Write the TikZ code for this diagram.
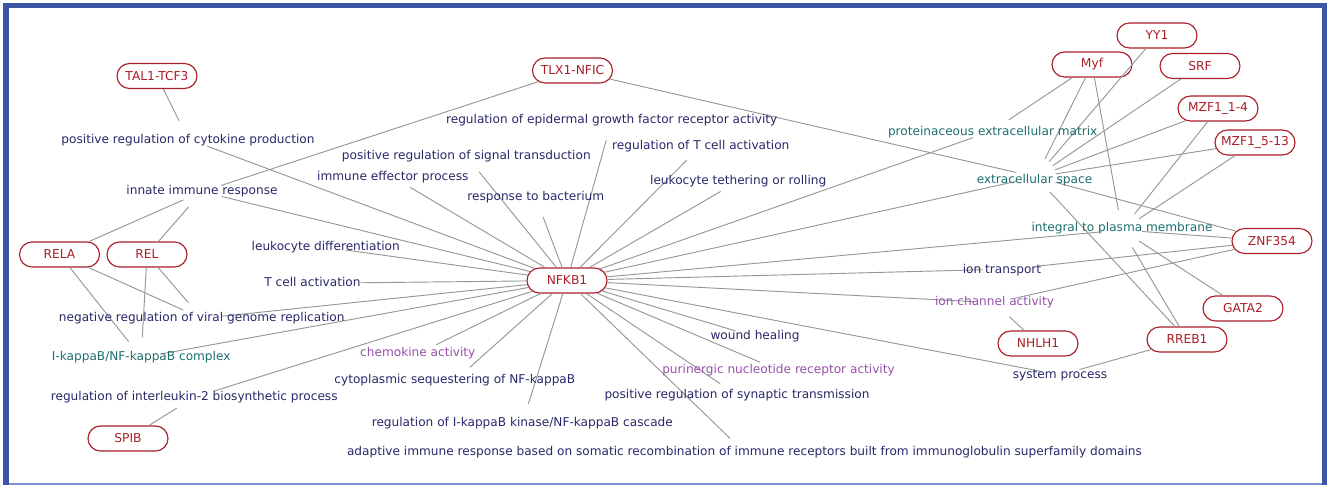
\documentclass[tikz,border=0pt]{standalone}
\usepackage{fontspec}
\setmainfont{DejaVu Sans}
\usetikzlibrary{shapes.misc}
\definecolor{generd}{RGB}{170,30,40}
\definecolor{termnavy}{RGB}{40,40,105}
\definecolor{termteal}{RGB}{30,110,110}
\definecolor{termpurple}{RGB}{150,80,170}
\definecolor{edgegray}{RGB}{150,150,150}
\definecolor{framebl}{RGB}{60,84,165}
\definecolor{framelt}{RGB}{125,145,210}
\begin{document}
\begin{tikzpicture}[x=0.75pt,y=-0.75pt,
  gene/.style={rounded rectangle, draw=generd, line width=0.85pt, fill=white, text=generd,
    minimum width=60pt, minimum height=18.75pt, inner sep=0pt, font=\fontsize{9.2}{10}\selectfont},
  hub/.style={circle, minimum size=30pt, inner sep=0pt, draw=none},
  term/.style={inner sep=0pt, text height=6.8pt, text depth=2.3pt, font=\fontsize{9.1}{10}\selectfont},
  bp/.style={term, text=termnavy},
  cc/.style={term, text=termteal},
  mf/.style={term, text=termpurple},
  link/.style={draw=edgegray, line width=0.7pt}]
\useasboundingbox (0,0) rectangle (1330,485);
% frame
\fill[framebl] (3,3) rectangle (9,485);
\fill[framebl] (3,3) rectangle (1327,8);
\fill[framebl] (1322,3) rectangle (1327,485);
\fill[framelt] (9,483) rectangle (1322,485);
% hubs of the term nodes
\node[hub] (cyto) at (188,139) {};
\node[hub] (innate) at (202,191.7) {};
\node[hub] (signal) at (466.3,156) {};
\node[hub] (effector) at (392.8,177) {};
\node[hub] (egfr) at (611.7,120.7) {};
\node[hub] (regT) at (700.8,146) {};
\node[hub] (bact) at (535.8,197.7) {};
\node[hub] (teth) at (738.2,181.3) {};
\node[hub] (ldiff) at (325.7,247.3) {};
\node[hub] (Tact) at (340,283) {};
\node[hub] (viral) at (201.7,318.3) {};
\node[hub] (complex) at (141.2,357.5) {};
\node[hub] (il2) at (194.2,397.3) {};
\node[hub] (chemo) at (417.8,353.7) {};
\node[hub] (seq) at (454.8,380.7) {};
\node[hub] (ikk) at (522.3,423.3) {};
\node[hub] (adapt) at (744.4,452.3) {};
\node[hub] (wound) at (755,336.7) {};
\node[hub] (puri) at (778.5,370) {};
\node[hub] (syn) at (737,395) {};
\node[hub] (sys) at (1060,375) {};
\node[hub] (ionch) at (994.5,302.7) {};
\node[hub, minimum size=42pt] (iont) at (1011,269) {};
\node[hub] (integ) at (1122,230) {};
\node[hub] (ecs) at (1036,177) {};
\node[hub] (pem) at (992,131) {};
% gene nodes
\node[gene] (tal) at (157,76) {TAL1-TCF3};
\node[gene] (tlx) at (572.5,70.5) {TLX1-NFIC};
\node[gene] (rela) at (59.5,254.5) {RELA};
\node[gene] (rel) at (147,254.5) {REL};
\node[gene] (spib) at (128,438.5) {SPIB};
\node[gene] (nfkb) at (567,280.5) {NFKB1};
\node[gene] (yy1) at (1157,35.5) {YY1};
\node[gene] (myf) at (1092,64.5) {Myf};
\node[gene] (srf) at (1200,66) {SRF};
\node[gene] (mzfa) at (1218,108.5) {MZF1\_1-4};
\node[gene] (mzfb) at (1255,142.5) {MZF1\_5-13};
\node[gene] (znf) at (1272,241) {ZNF354};
\node[gene] (gata) at (1243,308.5) {GATA2};
\node[gene] (rreb) at (1187,339.5) {RREB1};
\node[gene] (nhlh) at (1038,343.5) {NHLH1};
% connectors
\foreach \t in {cyto,innate,signal,effector,egfr,regT,bact,teth,ldiff,Tact,viral,complex,il2,
  chemo,seq,ikk,adapt,wound,puri,syn,sys,ionch,iont,integ,ecs,pem}
  \draw[link] (nfkb) -- (\t);
\foreach \a/\b in {tal/cyto, tlx/innate, tlx/ecs, rela/innate, rela/viral, rela/complex,
  rel/innate, rel/viral, rel/complex, spib/il2, yy1/ecs, myf/pem, myf/ecs, myf/integ,
  srf/ecs, mzfa/ecs, mzfa/integ, mzfb/ecs, mzfb/integ, znf/ecs, znf/integ, znf/iont,
  znf/ionch, gata/integ, rreb/ecs, rreb/integ, rreb/sys, nhlh/ionch}
  \draw[link] (\a) -- (\b);
% term labels
\node[bp] (l-cyto) at (188,140) {positive regulation of cytokine production};
\node[bp] (l-innate) at (202,191.7) {innate immune response};
\node[bp] (l-signal) at (466.3,156) {positive regulation of signal transduction};
\node[bp] (l-effector) at (392.8,177) {immune effector process};
\node[bp] (l-egfr) at (611.7,120.7) {regulation of epidermal growth factor receptor activity};
\node[bp] (l-regT) at (700.8,146) {regulation of T cell activation};
\node[bp] (l-bact) at (535.8,197.7) {response to bacterium};
\node[bp] (l-teth) at (738.2,181.3) {leukocyte tethering or rolling};
\node[bp] (l-ldiff) at (325.7,247.3) {leukocyte differentiation};
\node[bp] (l-Tact) at (312.5,283.3) {T cell activation};
\node[bp] (l-viral) at (201.7,318.3) {negative regulation of viral genome replication};
\node[cc] (l-complex) at (141.2,357.5) {I-kappaB/NF-kappaB complex};
\node[bp] (l-il2) at (194.2,397.3) {regulation of interleukin-2 biosynthetic process};
\node[mf] (l-chemo) at (417.8,353.7) {chemokine activity};
\node[bp] (l-seq) at (454.8,380.7) {cytoplasmic sequestering of NF-kappaB};
\node[bp] (l-ikk) at (522.3,423.3) {regulation of I-kappaB kinase/NF-kappaB cascade};
\node[bp] (l-adapt) at (744.4,452.3) {adaptive immune response based on somatic recombination of immune receptors built from immunoglobulin superfamily domains};
\node[bp] (l-wound) at (755,336.7) {wound healing};
\node[mf] (l-puri) at (778.5,370) {purinergic nucleotide receptor activity};
\node[bp] (l-syn) at (737,395) {positive regulation of synaptic transmission};
\node[bp] (l-sys) at (1060,375) {system process};
\node[mf] (l-ionch) at (994.5,302.7) {ion channel activity};
\node[bp] (l-iont) at (1002,270) {ion transport};
\node[cc] (l-integ) at (1122,228.3) {integral to plasma membrane};
\node[cc] (l-ecs) at (1034.5,180.3) {extracellular space};
\node[cc] (l-pem) at (992.7,132.3) {proteinaceous extracellular matrix};
\end{tikzpicture}
\end{document}
